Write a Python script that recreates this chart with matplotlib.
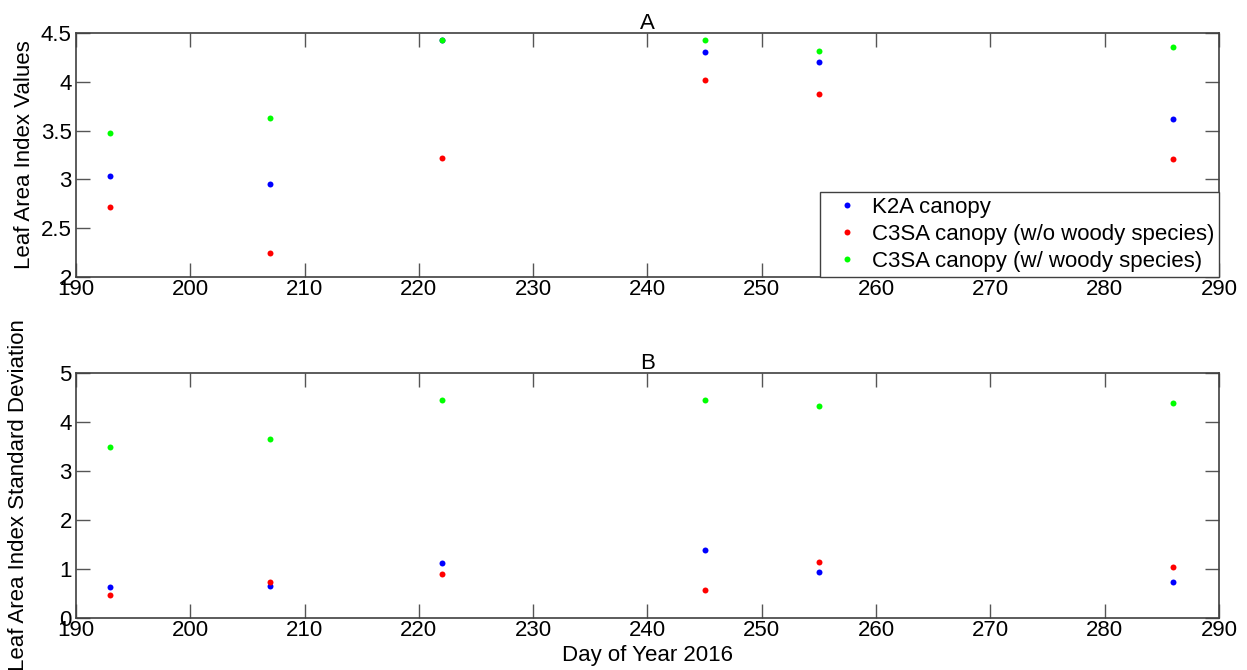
import matplotlib
matplotlib.use('Agg')
import matplotlib.pyplot as plt

plt.rcParams['font.family'] = ['Liberation Sans', 'DejaVu Sans']

# 数据
days = [193, 207, 222, 245, 255, 286]

lai_k2a = [3.03, 2.95, 4.43, 4.31, 4.20, 3.62]
lai_c3sa_wo = [2.72, 2.25, 3.22, 4.02, 3.87, 3.21]
lai_c3sa_w = [3.48, 3.63, 4.43, 4.43, 4.32, 4.36]

sd_k2a = [0.64, 0.65, 1.12, 1.38, 0.93, 0.74]
sd_c3sa_wo = [0.47, 0.74, 0.89, 0.58, 1.15, 1.05]
sd_c3sa_w = [3.49, 3.65, 4.44, 4.44, 4.32, 4.38]

labels = ['K2A canopy', 'C3SA canopy (w/o woody species)', 'C3SA canopy (w/ woody species)']
colors = ['#0000ff', '#ff0000', '#00ff00']

W, H = 1247, 670
FS = 16
fig = plt.figure(figsize=(W / 100, H / 100), dpi=100)

def px_axes(x0, y0, x1, y1):
    return fig.add_axes([x0 / W, 1 - y1 / H, (x1 - x0) / W, (y1 - y0) / H])

def style(ax):
    for s in ax.spines.values():
        s.set_color('#404040')
        s.set_linewidth(1.2)
    ax.tick_params(direction='in', length=10, width=1, color='#555555',
                   top=True, right=True, labelsize=FS)
    ax.tick_params(axis='x', pad=1.5)
    ax.tick_params(axis='y', pad=3)
    ax.set_xlim(190, 290)
    ax.set_xticks(range(190, 291, 10))

ax1 = px_axes(76, 33, 1219, 277)
for vals, c, lab in zip([lai_k2a, lai_c3sa_wo, lai_c3sa_w], colors, labels):
    ax1.plot(days, vals, 'o', color=c, markersize=4.3, markeredgewidth=0, label=lab)
style(ax1)
ax1.set_ylim(2, 4.5)
ax1.set_yticks([2, 2.5, 3, 3.5, 4, 4.5])
ax1.set_yticklabels(['2', '2.5', '3', '3.5', '4', '4.5'])
ax1.set_title('A', fontsize=FS, pad=3)
ax1.set_ylabel('Leaf Area Index Values', fontsize=FS)
ax1.yaxis.set_label_coords(-0.036, 0.5)
leg = ax1.legend(loc='lower right', fontsize=FS, borderaxespad=0, fancybox=False,
                 framealpha=1, edgecolor='#404040', handletextpad=0.1,
                 labelspacing=0.28, handlelength=2.0, borderpad=0.22)
leg.get_frame().set_linewidth(1.0)

ax2 = px_axes(76, 373, 1219, 618)
for vals, c, lab in zip([sd_k2a, sd_c3sa_wo, sd_c3sa_w], colors, labels):
    ax2.plot(days, vals, 'o', color=c, markersize=4.3, markeredgewidth=0, label=lab)
style(ax2)
ax2.set_ylim(0, 5)
ax2.set_yticks(range(0, 6))
ax2.set_title('B', fontsize=FS, pad=3)
ax2.set_ylabel('Leaf Area Index Standard Deviation', fontsize=FS)
ax2.yaxis.set_label_coords(-0.041, 0.5)
ax2.set_xlabel('Day of Year 2016', fontsize=FS, labelpad=3)

fig.savefig('out.png', dpi=100)
